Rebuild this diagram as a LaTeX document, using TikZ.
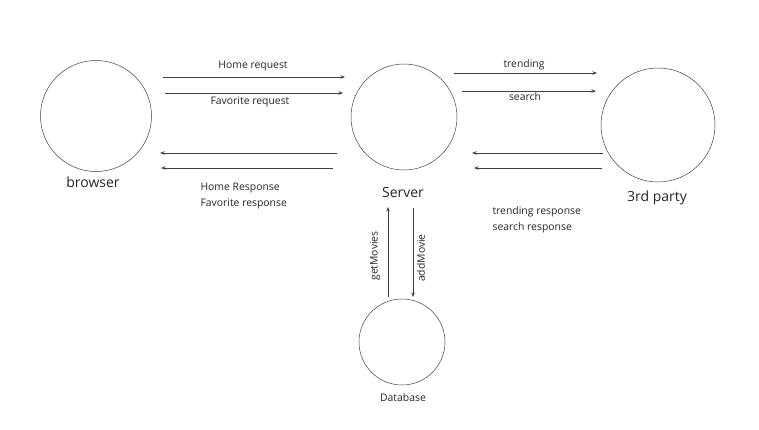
\documentclass[tikz,border=0pt]{standalone}
\usepackage{fontspec}
\setmainfont{Open Sans}
\usetikzlibrary{arrows.meta}
\begin{document}
\begin{tikzpicture}[x=1pt,y=-1pt,
  ent/.style={circle,draw=black!75,line width=0.5pt,inner sep=0pt},
  big/.style={font=\fontsize{14}{16}\selectfont,text=black!85},
  lbl/.style={font=\fontsize{10.4}{15.5}\selectfont,text=black!85},
  flow/.style={draw=black!75,line width=0.8pt,-{Stealth[length=4.5pt,width=3.5pt]}}]
\useasboundingbox (0,0) rectangle (759,429);
\node[ent,minimum size=111pt] (browser) at (96,116) {};
\node[ent,minimum size=106pt] (server) at (404,117) {};
\node[ent,minimum size=114pt] (third) at (658,125) {};
\node[ent,minimum size=86pt] (db) at (402,342) {};
\node[big] (browserL) at (93,182) {browser};
\node[big] (serverL) at (403,192) {Server};
\node[big] (thirdL) at (657,198) {3rd party};
\node[lbl] (dbL) at (403,398) {Database};
% browser <-> server
\coordinate (a1) at (163,77); \coordinate (a2) at (345,77);
\coordinate (b1) at (165,93); \coordinate (b2) at (343,93);
\coordinate (c1) at (337,153); \coordinate (c2) at (160,153);
\coordinate (d1) at (333,168); \coordinate (d2) at (161,168);
\draw[flow] (a1) -- (a2);
\draw[flow] (b1) -- (b2);
\draw[flow] (c1) -- (c2);
\draw[flow] (d1) -- (d2);
\node[lbl] (homereq) at (253,66) {Home request};
\node[lbl] (favreq) at (250,102) {Favorite request};
\node[lbl,anchor=west,align=left] (resp1) at (197,196) {Home Response\\Favorite response};
% server <-> third party
\coordinate (e1) at (454,73); \coordinate (e2) at (597,73);
\coordinate (f1) at (462,91); \coordinate (f2) at (596,91);
\coordinate (g1) at (603,153); \coordinate (g2) at (472,153);
\coordinate (h1) at (602,168); \coordinate (h2) at (474,168);
\draw[flow] (e1) -- (e2);
\draw[flow] (f1) -- (f2);
\draw[flow] (g1) -- (g2);
\draw[flow] (h1) -- (h2);
\node[lbl] (trend) at (524,65) {trending};
\node[lbl] (search) at (525,97) {search};
\node[lbl,anchor=west,align=left] (resp2) at (489,220) {trending response\\search response};
% server <-> database
\coordinate (i1) at (388,297); \coordinate (i2) at (388,207);
\coordinate (j1) at (413,208); \coordinate (j2) at (413,297);
\draw[flow] (i1) -- (i2);
\draw[flow] (j1) -- (j2);
\node[lbl,rotate=90] (getm) at (375,256) {getMovies};
\node[lbl,rotate=90] (addm) at (421,258) {addMovie};
\end{tikzpicture}
\end{document}
